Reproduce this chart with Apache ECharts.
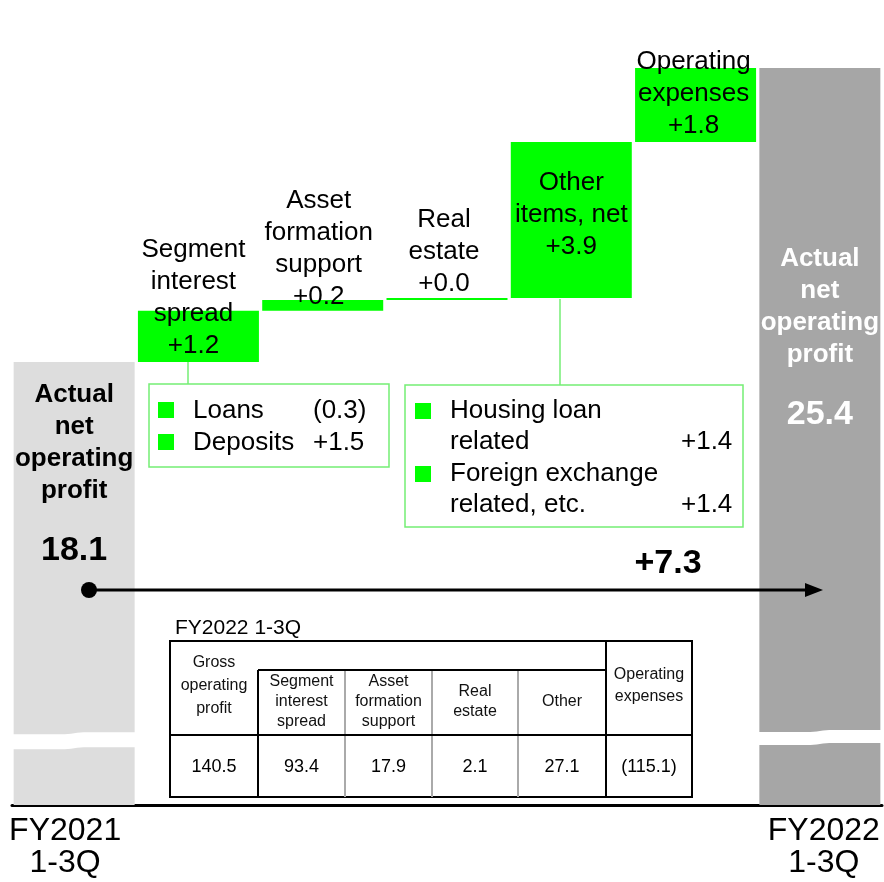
<!DOCTYPE html>
<html><head><meta charset="utf-8">
<script src="https://cdn.jsdelivr.net/npm/echarts@6/dist/echarts.min.js"></script>
<style>html,body{margin:0;padding:0;background:#fff}#c{width:884px;height:882px}</style>
</head><body><div id="c"></div>
<script>
// ---------- data ----------
const categories = ['FY2021\n1-3Q', 'Segment interest spread', 'Asset formation support', 'Real estate', 'Other items, net', 'Operating expenses', 'FY2022\n1-3Q'];
const startValue = 18.1;
const endValue = 25.4;
const startLabel = '18.1';
const endLabel = '25.4';
const totalTitle = ['Actual', 'net', 'operating', 'profit'];
const stepNames = ['Segment\ninterest\nspread', 'Asset\nformation\nsupport', 'Real\nestate', 'Other\nitems, net', 'Operating\nexpenses'];
const stepLabels = ['+1.2', '+0.2', '+0.0', '+3.9', '+1.8'];
const stepDeltas = [1.27, 0.27, 0.05, 3.87, 1.84];
const totalChange = '+7.3';
const breakLevels = [[0, 8.67], [6, 8.75]];
const box1Items = [['Loans', '(0.3)'], ['Deposits', '+1.5']];
const box2Items = [['Housing loan', 'related', '+1.4'], ['Foreign exchange', 'related, etc.', '+1.4']];
const tableTitle = 'FY2022 1-3Q';
const tableHeaders = ['Gross\noperating\nprofit', 'Segment\ninterest\nspread', 'Asset\nformation\nsupport', 'Real\nestate', 'Other', 'Operating\nexpenses'];
const tableValues = ['140.5', '93.4', '17.9', '2.1', '27.1', '(115.1)'];

// ---------- build ----------
const FONT = '"Liberation Sans", Arial, Helvetica, sans-serif';
const baseData = ['-'];
let acc = startValue;
stepDeltas.forEach(d => { baseData.push(+acc.toFixed(2)); acc += d; });
baseData.push('-');

const labelPos = ['insideBottom', 'insideBottom', 'insideBottom', 'insideTop', 'insideBottom'];
const labelDist = [0, -2, 0, 25, 0];
const labelShift = [-5, -4, -3, 0, -2];
const deltaData = ['-'].concat(stepDeltas.map((d, i) => ({
  value: d,
  label: {
    show: true, position: labelPos[i], distance: labelDist[i], offset: [labelShift[i], 0],
    formatter: stepNames[i] + '\n' + stepLabels[i],
    fontSize: 26, lineHeight: 32, color: '#000', fontFamily: FONT, align: 'center'
  }
}))).concat(['-']);

function totalLabel(val, color, dist) {
  return {
    show: true, position: 'insideTop', distance: dist,
    formatter: totalTitle.map(t => '{a|' + t + '}').join('\n') + '\n{b|' + val + '}',
    rich: {
      a: { fontSize: 26, lineHeight: 32, fontWeight: 'bold', color: color, fontFamily: FONT, align: 'center' },
      b: { fontSize: 34, lineHeight: 88, fontWeight: 'bold', color: color, fontFamily: FONT, align: 'center' }
    }
  };
}
const totalData = [
  { value: startValue, itemStyle: { color: '#dddddd' }, label: totalLabel(startLabel, '#000', 17) },
  '-', '-', '-', '-', '-',
  { value: endValue, itemStyle: { color: '#a6a6a6' }, label: totalLabel(endLabel, '#fff', 175) }
];

function renderBreak(params, api) {
  const p = api.coord([api.value(0), api.value(1)]);
  const hw = 63;
  const h = params.dataIndex === 0 ? 7.5 : 6.5;
  const top = [], bot = [];
  const N = 40;
  for (let k = 0; k <= N; k++) {
    const t = k / N;
    let u = Math.min(1, Math.max(0, (t - 0.42) / 0.16));
    const s = u * u * (3 - 2 * u);
    const x = p[0] - hw + 2 * hw * t;
    top.push([x, p[1] - h - 2 * s]);
    bot.unshift([x, p[1] + h - 2 * s]);
  }
  return { type: 'polygon', shape: { points: top.concat(bot) }, style: { fill: '#ffffff' } };
}

// ---------- graphics (annotations) ----------
const G = [];
function txt(text, x, y, size, opts) {
  opts = opts || {};
  G.push({
    type: 'text', z: 100,
    style: {
      text: text, x: x, y: y,
      font: (opts.bold ? 'bold ' : '') + size + 'px ' + FONT,
      fill: opts.color || '#000',
      textAlign: opts.align || 'left', align: opts.align || 'left',
      textVerticalAlign: 'middle', verticalAlign: 'middle',
      lineHeight: opts.lh || size
    }
  });
}
function line(x1, y1, x2, y2, color, w) {
  G.push({ type: 'line', z: 90, shape: { x1: x1, y1: y1, x2: x2, y2: y2 }, style: { stroke: color, lineWidth: w } });
}
const boxGreen = '#74ee74';
// connectors
line(188, 362, 188, 384, boxGreen, 1.5);
line(560, 299, 560, 385, boxGreen, 1.5);
// box 1
G.push({ type: 'rect', z: 90, shape: { x: 149, y: 384, width: 240, height: 83 }, style: { fill: 'none', stroke: boxGreen, lineWidth: 1.5 } });
box1Items.forEach((it, i) => {
  const cy = 411 + i * 32;
  G.push({ type: 'rect', z: 95, shape: { x: 158, y: cy - 9, width: 16, height: 16 }, style: { fill: '#00ff00' } });
  txt(it[0], 193, cy, 26);
  txt(it[1], 313, cy, 26);
});
// box 2
G.push({ type: 'rect', z: 90, shape: { x: 405, y: 385, width: 338, height: 142 }, style: { fill: 'none', stroke: boxGreen, lineWidth: 1.5 } });
box2Items.forEach((it, i) => {
  const cy = 411 + i * 63;
  G.push({ type: 'rect', z: 95, shape: { x: 415, y: cy - 8, width: 16, height: 16 }, style: { fill: '#00ff00' } });
  txt(it[0], 450, cy, 26);
  txt(it[1], 450, cy + 31, 26);
  txt(it[2], 681, cy + 31, 26);
});
// arrow
line(89, 590, 808, 590, '#000', 3);
G.push({ type: 'circle', z: 95, shape: { cx: 89, cy: 590, r: 8 }, style: { fill: '#000' } });
G.push({ type: 'polygon', z: 95, shape: { points: [[805, 583], [823, 590], [805, 597]] }, style: { fill: '#000' } });
txt(totalChange, 668, 564, 34, { bold: true, align: 'center' });
// table
const colX = [170, 258, 345, 432, 518, 606, 692];
txt(tableTitle, 175, 628, 21);
G.push({ type: 'rect', z: 80, shape: { x: 170, y: 641, width: 522, height: 156 }, style: { fill: '#fff', stroke: '#000', lineWidth: 2 } });
[345, 432, 518].forEach(x => line(x, 670, x, 797, '#aaaaaa', 2));
line(258, 670, 606, 670, '#000', 2);
line(170, 735, 692, 735, '#000', 2);
line(258, 670, 258, 797, '#000', 2);
line(606, 641, 606, 797, '#000', 2);
tableHeaders.forEach((h, i) => {
  const cx = (colX[i] + colX[i + 1]) / 2;
  let cy, lh;
  if (i === 0) { cy = 686; lh = 23; }
  else if (i === 5) { cy = 686; lh = 22; }
  else { cy = 702; lh = 20; }
  txt(h, cx, cy, 16, { align: 'center', lh: lh, color: '#111' });
  txt(tableValues[i], cx, 767, 18, { align: 'center' });
});

// ---------- chart ----------
const chart = echarts.init(document.getElementById('c'), null, { renderer: 'canvas' });
chart.setOption({
  animation: false,
  backgroundColor: '#ffffff',
  grid: { left: 12, right: 2, top: 68, bottom: 77, containLabel: false },
  xAxis: {
    type: 'category', data: categories,
    axisLine: { show: true, lineStyle: { color: '#000', width: 3 } },
    axisTick: { show: false },
    splitLine: { show: false },
    axisLabel: {
      interval: 0, margin: 10,
      formatter: function (v, i) {
        if (i === 0) return v.split('\n').map(s => '{l|' + s + '}').join('\n');
        if (i === categories.length - 1) return v.split('\n').map(s => '{r|' + s + '}').join('\n');
        return '';
      },
      rich: {
        l: { fontSize: 32, lineHeight: 32, color: '#000', fontFamily: FONT, padding: [0, 18, 0, 0] },
        r: { fontSize: 32, lineHeight: 32, color: '#000', fontFamily: FONT, padding: [0, 0, 0, 8] }
      }
    }
  },
  yAxis: { type: 'value', min: 7.1, max: 25.4, show: false, splitLine: { show: false } },
  series: [
    { type: 'bar', name: 'base', stack: 'w', data: baseData, barWidth: 121, barGap: '-100%', itemStyle: { color: 'rgba(0,0,0,0)' }, silent: true },
    { type: 'bar', name: 'delta', stack: 'w', data: deltaData, barWidth: 121, barGap: '-100%', itemStyle: { color: '#00ff00' } },
    { type: 'bar', name: 'total', data: totalData, barWidth: 121, barGap: '-100%' },
    { type: 'custom', name: 'break', data: breakLevels, renderItem: renderBreak, z: 10, silent: true }
  ],
  graphic: G
});
</script>
</body></html>
